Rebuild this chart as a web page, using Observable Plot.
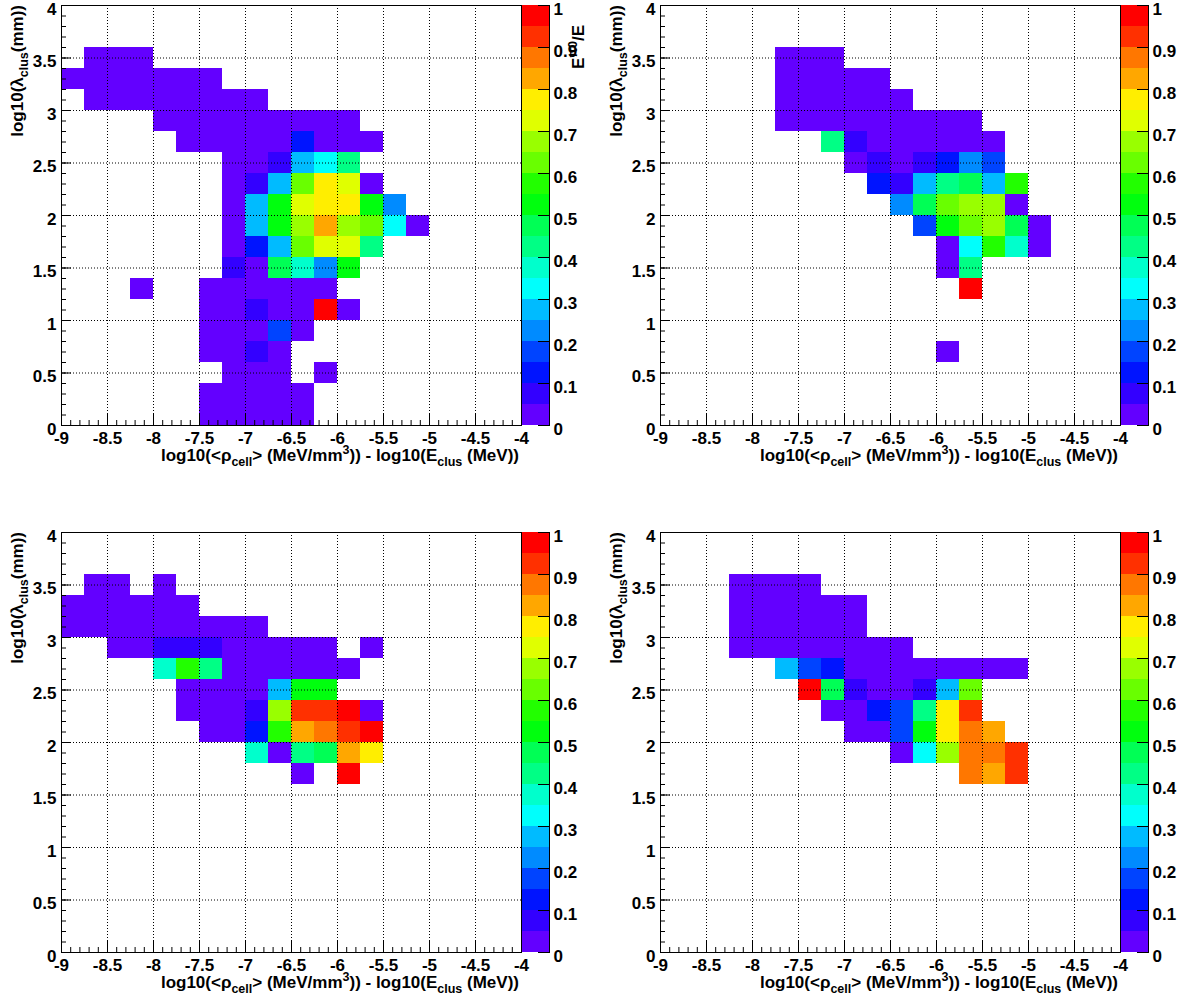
<!DOCTYPE html>
<html><head><meta charset="utf-8">
<script src="https://cdn.jsdelivr.net/npm/d3@7"></script>
<script src="https://cdn.jsdelivr.net/npm/@observablehq/plot@0.6"></script>
<style>
body{margin:0;background:#fff;}
#fig{position:relative;width:1184px;height:1005px;background:#fff;overflow:hidden;}
#fig > div{position:absolute;}
#fig svg{overflow:visible;max-width:none !important;}
</style></head><body><div id="fig"></div>
<script>
// axis definitions
const xTicks = [-9,-8.5,-8,-7.5,-7,-6.5,-6,-5.5,-5,-4.5,-4];
const yTicks = [0,0.5,1,1.5,2,2.5,3,3.5,4];
const zTicks = [0,0.1,0.2,0.3,0.4,0.5,0.6,0.7,0.8,0.9,1];
const zEdges = [0,0.05,0.1,0.15,0.2,0.25,0.3,0.35,0.4,0.45,0.5,0.55,0.6,0.65,0.7,0.75,0.8,0.85,0.9,0.95,1];
const palette = ["#6300FF","#3300FF","#0014FF","#0044FF","#008BFF","#00BBFF","#00FFFC","#00FFCC","#00FF85","#00FF55",
                 "#00FF0E","#22FF00","#69FF00","#99FF00","#E0FF00","#FFEE00","#FFA700","#FF7700","#FF3000","#FF0000"];
const binW = 0.25, binH = 0.2;

// rows: [lower y edge, lower x edge of first bin, values of consecutive bins (null = empty)]
const panelTL = [
  [3.4, -8.75, [.02,.02,.02]],
  [3.2, -9,    [.02,.02,.02,.02,.02,.02,.02]],
  [3.0, -8.75, [.02,.02,.02,.02,.02,.02,.02,.02]],
  [2.8, -8,    [.02,.02,.02,.02,.02,.02,.02,.02,.02]],
  [2.6, -7.75, [.02,.02,.02,.02,.02,.12,.02,.02,.02]],
  [2.4, -7.25, [.02,.02,.07,.27,.32,.42]],
  [2.2, -7.25, [.02,.07,.27,.62,.77,.72,.02]],
  [2.0, -7.25, [.02,.27,.52,.72,.77,.77,.52,.22]],
  [1.8, -7.25, [.02,.27,.52,.67,.82,.67,.62,.32,.02]],
  [1.6, -7.25, [.02,.12,.27,.62,.72,.72,.42]],
  [1.4, -7.25, [.07,.02,.47,.37,.22,.52]],
  [1.2, -8.25, [.02,null,null,.02,.02,.02,.02,.02,.02]],
  [1.0, -7.5,  [.02,.02,.07,.02,.02,.97,.02]],
  [0.8, -7.5,  [.02,.02,.02,.17,.02]],
  [0.6, -7.5,  [.02,.02,.07,.02]],
  [0.4, -7.25, [.02,.02,.02,null,.02]],
  [0.2, -7.5,  [.02,.02,.02,.02,.02]],
  [0.0, -7.5,  [.02,.02,.02,.02,.02]]
];
const panelTR = [
  [3.4, -7.75, [.02,.02,.02]],
  [3.2, -7.75, [.02,.02,.02,.02,.02]],
  [3.0, -7.75, [.02,.02,.02,.02,.02,.02]],
  [2.8, -7.75, [.02,.02,.02,.02,.02,.02,.02,.02,.02]],
  [2.6, -7.25, [.42,.07,.02,.02,.02,.02,.02,.02]],
  [2.4, -7,    [.02,.07,.02,.07,.12,.22,.17]],
  [2.2, -6.75, [.12,.07,.27,.42,.47,.27,.57]],
  [2.0, -6.5,  [.22,.47,.62,.67,.67,.02]],
  [1.8, -6.25, [.17,.52,.62,.67,.47,.02]],
  [1.6, -6,    [.02,.32,.57,.37,.02]],
  [1.4, -6,    [.02,.42]],
  [1.2, -5.75, [.97]],
  [0.6, -6,    [.02]]
];
const panelBL = [
  [3.4, -8.75, [.02,.02,null,.02]],
  [3.2, -9,    [.02,.02,.02,.02,.02,.02]],
  [3.0, -9,    [.02,.02,.02,.02,.02,.02,.02,.02,.02]],
  [2.8, -8.5,  [.02,.02,.07,.07,.07,.02,.02,.02,.02,.02,null,.02]],
  [2.6, -8,    [.37,.57,.42,.02,.02,.02,.02,.02,.02]],
  [2.4, -7.75, [.02,.02,.02,.02,.27,.52,.52]],
  [2.2, -7.75, [.02,.02,.02,.07,.67,.92,.92,.97,.02]],
  [2.0, -7.5,  [.02,.02,.12,.57,.82,.87,.92,.97]],
  [1.8, -7,    [.37,.02,.42,.47,.82,.77]],
  [1.6, -6.5,  [.02,null,.97]]
];
const panelBR = [
  [3.4, -8.25, [.02,.02,.02,.02]],
  [3.2, -8.25, [.02,.02,.02,.02,.02,.02]],
  [3.0, -8.25, [.02,.02,.02,.02,.02,.02]],
  [2.8, -8.25, [.02,.02,.02,.02,.02,.02,.02,.02]],
  [2.6, -7.75, [.27,.17,.12,.02,.02,.02,.02,.02,.02,.02,.02]],
  [2.4, -7.5,  [.97,.47,.07,.02,.02,.07,.27,.62]],
  [2.2, -7.25, [.02,.02,.12,.17,.42,.77,.92]],
  [2.0, -7,    [.02,.02,.17,.52,.77,.87,.82]],
  [1.8, -6.5,  [.02,.32,.67,.87,.87,.92]],
  [1.6, -5.75, [.87,.82,.92]]
];

const xTitle = [["log10(<ρ"],["cell","sub"],["> (MeV/mm"],["3","sup"],[")) - log10(E"],["clus","sub"],[" (MeV))"]];
const yTitle = [["log10(λ"],["clus","sub"],["(mm))"]];
const zTitle = [["E"],["π0","sup"],["/E"]];

const FONT = "'Liberation Sans', Arial, Helvetica, sans-serif";
const colorScale = {type: "threshold", domain: zEdges.slice(1, -1), range: palette};
const baseStyle = {fontFamily: FONT, fontSize: "17px", fontWeight: "bold", color: "black", background: "transparent", overflow: "visible", maxWidth: "none"};
const xMinor = d3.ticks(-9, -4, 50);
const yMinor = d3.ticks(0, 4, 40);
const grid = {stroke: "black", strokeOpacity: 1, strokeWidth: 1, strokeDasharray: "1,2"};
const fmt = d => String(d);

function richText(svg, x, y, rotate, anchor, parts) {
  const t = d3.select(svg).append("text")
    .attr("transform", `translate(${x},${y})` + (rotate ? ` rotate(${rotate})` : ""))
    .attr("text-anchor", anchor).attr("font-family", FONT).attr("font-weight", "bold")
    .attr("font-size", 17).attr("fill", "black");
  let shift = 0;
  for (const [s, kind] of parts) {
    const target = kind === "sub" ? 5 : kind === "sup" ? -7 : 0;
    t.append("tspan").attr("dy", target - shift).attr("font-size", kind ? 12.5 : 17).text(s);
    shift = target;
  }
}

function place(node, left, top, w, h) {
  const d = document.createElement("div");
  d.style.left = left + "px"; d.style.top = top + "px";
  d.style.width = w + "px"; d.style.height = h + "px";
  d.appendChild(node);
  document.getElementById("fig").appendChild(d);
}

function panel(rows, left, top, withZTitle) {
  const cells = rows.flatMap(([y, x0, vals]) => vals.map((v, k) => v == null ? null :
      ({x1: x0 + binW * k, x2: x0 + binW * (k + 1), y1: y, y2: y + binH, v})).filter(d => d));
  const main = Plot.plot({
    width: 523, height: 480, marginLeft: 61, marginRight: 2, marginTop: 5, marginBottom: 55,
    x: {domain: [-9, -4]}, y: {domain: [0, 4]},
    color: colorScale, style: baseStyle,
    marks: [
      Plot.rect(cells, {x1: "x1", x2: "x2", y1: "y1", y2: "y2", fill: "v"}),
      Plot.gridX(xTicks, grid),
      Plot.gridY(yTicks, grid),
      Plot.axisX(xMinor, {tickSize: -5, text: null, label: null}),
      Plot.axisX(xTicks, {tickSize: -11, text: null, label: null}),
      Plot.axisX(xTicks, {tickSize: 0, tickPadding: 6, tickFormat: fmt, label: null}),
      Plot.axisY(yMinor, {tickSize: -5, text: null, label: null}),
      Plot.axisY(yTicks, {tickSize: -10, text: null, label: null}),
      Plot.axisY(yTicks, {tickSize: 0, tickPadding: 5, dy: 4, tickFormat: fmt, label: null}),
      Plot.frame({stroke: "black"})
    ]
  });
  richText(main, 519, 461, 0, "end", xTitle);
  richText(main, 23, 5, -90, "end", yTitle);
  place(main, left, top, 523, 480);

  const bins = zEdges.slice(0, -1).map((lo, i) => ({lo, hi: zEdges[i + 1], mid: (lo + zEdges[i + 1]) / 2}));
  const bar = Plot.plot({
    width: 75, height: 480, marginLeft: 0, marginRight: 48, marginTop: 5, marginBottom: 55,
    x: {domain: [0, 1], axis: null}, y: {domain: [0, 1]},
    color: colorScale, style: baseStyle,
    marks: [
      Plot.rect(bins, {x1: 0, x2: 1, y1: "lo", y2: "hi", fill: "mid"}),
      Plot.ruleX([1], {stroke: "black"}),
      Plot.axisY(zTicks, {anchor: "right", tickSize: -12, text: null, label: null}),
      Plot.axisY(zTicks, {anchor: "right", tickSize: 0, tickPadding: 4, dy: 4, tickFormat: fmt, label: null})
    ]
  });
  if (withZTitle) richText(bar, 62, 25, -90, "end", zTitle);
  place(bar, left + 522, top, 75, 480);
}

panel(panelTL, 0, 0, true);
panel(panelTR, 599, 0, false);
panel(panelBL, 0, 527, false);
panel(panelBR, 599, 527, false);
</script></body></html>
